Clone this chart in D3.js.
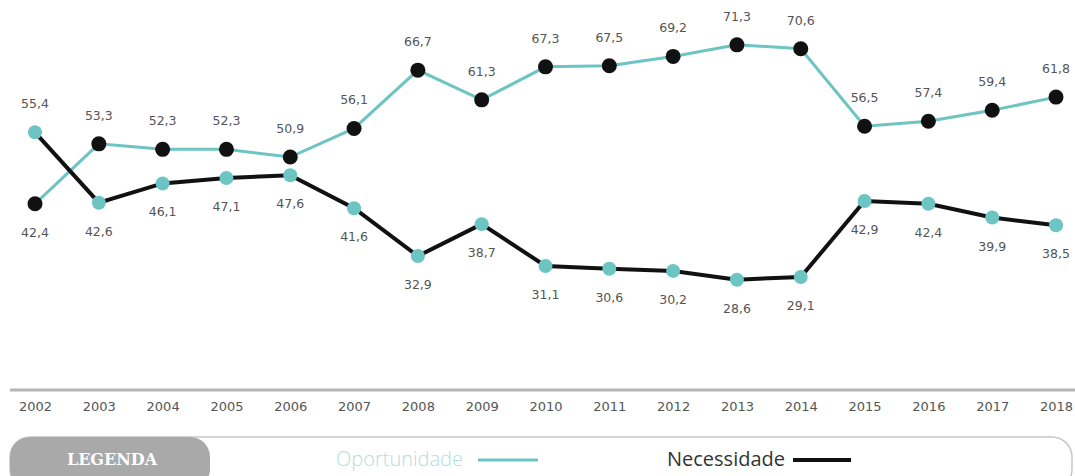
<!DOCTYPE html>
<html>
<head>
<meta charset="utf-8">
<script src="https://cdnjs.cloudflare.com/ajax/libs/d3/7.8.5/d3.min.js"></script>
<style>
  body { margin: 0; background: #fff; }
  svg { display: block; }
</style>
</head>
<body>
<div id="chart"></div>
<script>
// Oportunidade x Necessidade, 2002-2018

var years = ["2002","2003","2004","2005","2006","2007","2008","2009","2010","2011","2012","2013","2014","2015","2016","2017","2018"]
var oportunidade = [42.4, 53.3, 52.3, 52.3, 50.9, 56.1, 66.7, 61.3, 67.3, 67.5, 69.2, 71.3, 70.6, 56.5, 57.4, 59.4, 61.8]
var necessidade = [55.4, 42.6, 46.1, 47.1, 47.6, 41.6, 32.9, 38.7, 31.1, 30.6, 30.2, 28.6, 29.1, 42.9, 42.4, 39.9, 38.5]

var width = 1075
var height = 476
var teal = "#6cc4c3"
var dark = "#111111"

var svg = d3.select("#chart")
  .append("svg")
    .attr("width", width)
    .attr("height", height)

var x = d3.scalePoint()
  .domain(years)
  .range([35, 1056])

var y = d3.scaleLinear()
  .domain([20, 80])
  .range([327, -3])

var fmt = function(v) { return d3.format(".1f")(v).replace(".", ",") }

// axis: thick gray base line + year labels
svg.append("line")
  .attr("x1", 10).attr("x2", width)
  .attr("y1", 390).attr("y2", 390)
  .attr("stroke", "#b5b5b5")
  .attr("stroke-width", 3)

var xAxis = svg.append("g")
  .attr("transform", "translate(0,402)")
  .call(d3.axisBottom(x).tickSize(0).tickPadding(0))
xAxis.select(".domain").remove()
xAxis.selectAll("text")
  .attr("dy", "0.71em")
  .style("font-family", "'DejaVu Sans', Verdana, sans-serif")
  .style("font-size", "13px")
  .style("fill", "#555")

var line = d3.line()
  .x(function(d, i) { return x(years[i]) })
  .y(function(d) { return y(d) })

// Oportunidade: teal line, black dots
svg.append("path")
  .datum(oportunidade)
  .attr("fill", "none")
  .attr("stroke", teal)
  .attr("stroke-width", 3)
  .attr("d", line)

// Necessidade: black line, teal dots
svg.append("path")
  .datum(necessidade)
  .attr("fill", "none")
  .attr("stroke", dark)
  .attr("stroke-width", 4)
  .attr("d", line)

svg.append("g")
  .selectAll("circle")
  .data(necessidade)
  .enter()
  .append("circle")
    .attr("cx", function(d, i) { return x(years[i]) })
    .attr("cy", function(d) { return y(d) })
    .attr("r", 7)
    .style("fill", teal)

svg.append("g")
  .selectAll("circle")
  .data(oportunidade)
  .enter()
  .append("circle")
    .attr("cx", function(d, i) { return x(years[i]) })
    .attr("cy", function(d) { return y(d) })
    .attr("r", 7.5)
    .style("fill", dark)

// value labels: above the higher point, below the lower one
function addLabels(values, other) {
  svg.append("g")
    .selectAll("text")
    .data(values)
    .enter()
    .append("text")
      .attr("x", function(d, i) { return x(years[i]) })
      .attr("y", function(d, i) { return d >= other[i] ? y(d) - 24 : y(d) + 33 })
      .attr("text-anchor", "middle")
      .style("font-family", "'DejaVu Sans', Verdana, sans-serif")
      .style("font-size", "12.5px")
      .style("fill", "#555")
      .text(fmt)
}
addLabels(oportunidade, necessidade)
addLabels(necessidade, oportunidade)

// legend
var legend = svg.append("g")

legend.append("rect")
  .attr("x", 10).attr("y", 437)
  .attr("width", 1062).attr("height", 52)
  .attr("rx", 20)
  .attr("fill", "#fff")
  .attr("stroke", "#c8c8c8")
  .attr("stroke-width", 1.5)

legend.append("rect")
  .attr("x", 10).attr("y", 437)
  .attr("width", 200).attr("height", 52)
  .attr("rx", 20)
  .attr("fill", "#a9a9a9")

legend.append("text")
  .attr("x", 112).attr("y", 465)
  .attr("text-anchor", "middle")
  .style("font-family", "'DejaVu Serif', 'Liberation Serif', serif")
  .style("font-weight", "bold")
  .style("font-size", "16px")
  .style("fill", "#fff")
  .text("LEGENDA")

legend.append("text")
  .attr("x", 463).attr("y", 466)
  .attr("text-anchor", "end")
  .style("font-family", "'Open Sans', sans-serif")
  .style("font-weight", "300")
  .style("font-size", "20px")
  .style("fill", "#b5dddd")
  .text("Oportunidade")

legend.append("line")
  .attr("x1", 478).attr("x2", 538)
  .attr("y1", 460).attr("y2", 460)
  .attr("stroke", teal)
  .attr("stroke-width", 3)

legend.append("text")
  .attr("x", 785).attr("y", 466)
  .attr("text-anchor", "end")
  .style("font-family", "'Open Sans', sans-serif")
  .style("font-size", "20px")
  .style("fill", "#333")
  .text("Necessidade")

legend.append("line")
  .attr("x1", 793).attr("x2", 851)
  .attr("y1", 460).attr("y2", 460)
  .attr("stroke", dark)
  .attr("stroke-width", 4)
</script>
</body>
</html>
